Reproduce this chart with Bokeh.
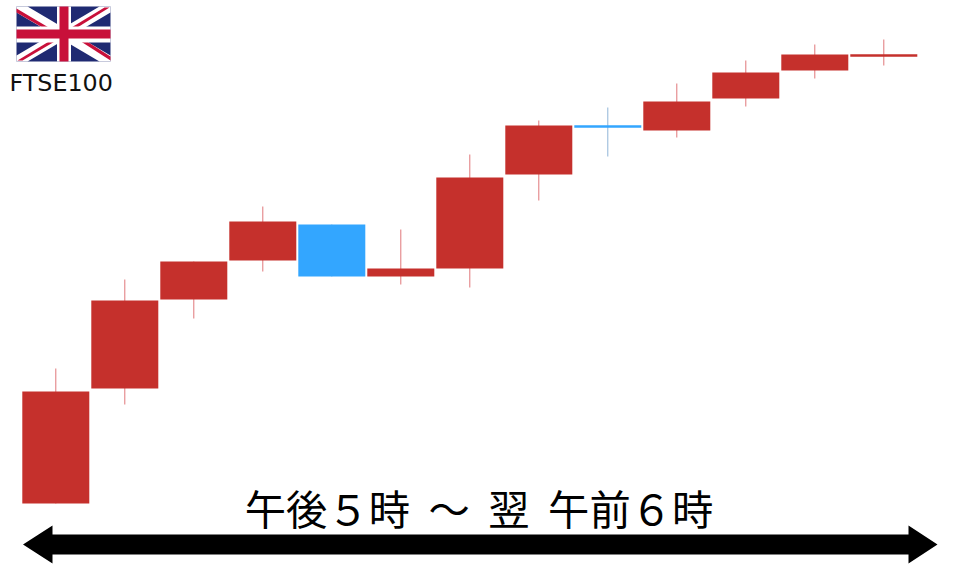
from bokeh.plotting import figure
from bokeh.models import Range1d
from bokeh.core.properties import value
from bokeh.embed import file_html
from bokeh.resources import INLINE

# Candles (level = height above the picture's lower edge)
sessions = list(range(13))
opens  = [64, 179, 268, 307, 343, 291, 299, 393, 441, 437, 469, 497, 512]
closes = [176, 267, 306, 346, 291, 299, 390, 442, 441, 466, 495, 513, 512]
highs  = [199, 288, 306, 361, 343, 338, 413, 447, 460, 484, 507, 523, 528]
lows   = [64, 163, 249, 296, 291, 283, 280, 367, 411, 430, 461, 489, 502]
up_colour = "#c5302c"
down_colour = "#33a6ff"

title_text = "午後５時 \u00a0～ \u00a0翌 \u00a0午前６時"
index_label = "FTSE100"

W, H = 960, 567
LEFT, TOP = 0, 0
X0, DX = 55.3, 69.0

p = figure(width=W, height=H, output_backend="svg", toolbar_location=None,
           x_range=Range1d((LEFT - X0) / DX, (LEFT + W - X0) / DX),
           y_range=Range1d(567 - TOP - H, 567 - TOP),
           min_border=0, outline_line_color=None, background_fill_color="white")
p.axis.visible = False
p.grid.visible = False


def sx(px):
    return (px - X0) / DX


def sy(py):
    return 567 - py


def poly(points, colour):
    p.patch([sx(a) for a, _ in points], [sy(b) for _, b in points],
            fill_color=colour, line_color=None)


colours = [up_colour if c >= o else down_colour for o, c in zip(opens, closes)]
colours[8] = down_colour
wicks = ["#e0777a" if c == up_colour else "#8fb4d8" for c in colours]
p.segment(sessions, lows, sessions, highs, line_color=wicks, line_width=1)

tops = [max(o, c) for o, c in zip(opens, closes)]
bottoms = [min(o, c) for o, c in zip(opens, closes)]
thick = [t == b for t, b in zip(tops, bottoms)]
body_idx = [i for i in sessions if not thick[i]]
p.vbar([sessions[i] for i in body_idx], width=67 / DX,
       top=[tops[i] for i in body_idx], bottom=[bottoms[i] for i in body_idx],
       fill_color=[colours[i] for i in body_idx], line_color=None)
for i in sessions:
    if thick[i]:
        p.segment([i - 33.5 / DX], [tops[i]], [i + 33.5 / DX], [tops[i]],
                  line_color=colours[i], line_width=2.5)

# Flag
L, R, T, B = 16, 110, 6, 61
NAVY, RED, WHITE = "#1f2a72", "#c8103a", "#ffffff"
poly([(L, T), (R, T), (R, B), (L, B)], NAVY)
poly([(L, T), (L + 11, T), (R, B - 6), (R, B), (R - 11, B), (L, T + 6)], WHITE)
poly([(R, T), (R, T + 6), (L + 11, B), (L, B), (L, B - 6), (R - 11, T)], WHITE)
poly([(L, T + 2), (60, 34), (54, 34), (L, T + 6)], RED)
poly([(R, B - 1), (68, 33), (74, 33), (R, B - 5)], RED)
poly([(R - 1, T + 1), (R - 6, T + 1), (66, 30), (72, 30)], RED)
poly([(L + 1, B - 1), (L + 6, B - 1), (61, 37), (55, 37)], RED)
poly([(56.5, T), (70.5, T), (70.5, B), (56.5, B)], WHITE)
poly([(L, 26), (R, 26), (R, 42), (L, 42)], WHITE)
poly([(59, T), (68, T), (68, B), (59, B)], RED)
poly([(L, 29), (R, 29), (R, 38), (L, 38)], RED)

# Double-headed arrow
poly([(22.5, 544), (52, 525), (52, 534), (908, 534), (908, 525), (937, 544),
      (908, 563), (908, 554), (52, 554), (52, 563)], "#000000")

p.text([sx(9)], [sy(82)], text=[index_label], text_font=value("DejaVu Sans"),
       text_font_size="23.8px", text_color="#111111", text_baseline="alphabetic")
p.text([sx(244.3)], [sy(506.5)], text=[title_text], text_font=value("Noto Sans CJK JP"),
       text_font_size="41.3px", text_color="#000000", text_baseline="alphabetic")

open("out.html", "w").write(file_html(p, INLINE))
